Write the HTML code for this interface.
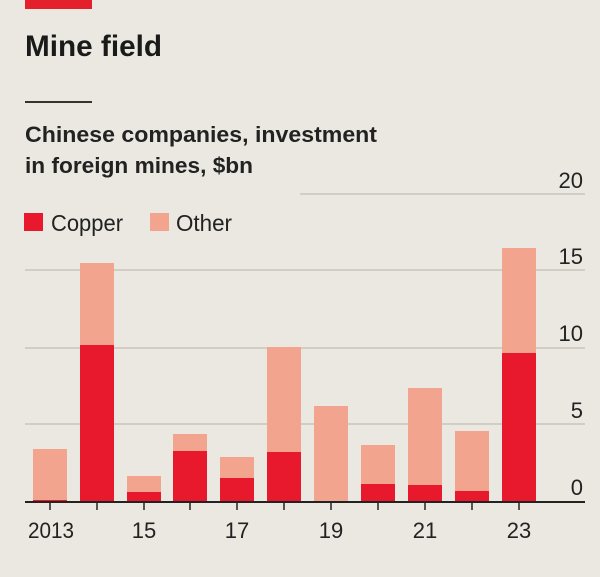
<!DOCTYPE html>
<html><head><meta charset="utf-8"><style>
html,body{margin:0;padding:0;background:#eae8e0;}
svg{display:block;font-family:"Liberation Sans",sans-serif;}
</style></head><body>
<svg width="600" height="577" viewBox="0 0 600 577" xmlns="http://www.w3.org/2000/svg">
<rect width="600" height="577" fill="#eae8e0"/>
<rect x="25" y="0" width="67" height="9" fill="#e3202c"/>
<text x="25" y="56" font-size="30" font-weight="bold" fill="#1a1a1a" textLength="137" lengthAdjust="spacingAndGlyphs">Mine field</text>
<rect x="25" y="101" width="67" height="2" fill="#333"/>
<text x="25" y="142" font-size="22" fill="#222" font-weight="bold" textLength="352" lengthAdjust="spacingAndGlyphs">Chinese companies, investment</text>
<text x="25" y="173" font-size="22" fill="#222" font-weight="bold" textLength="228" lengthAdjust="spacingAndGlyphs">in foreign mines, $bn</text>
<rect x="24" y="213" width="19" height="18" fill="#e8192c"/>
<text x="51" y="231" font-size="23" fill="#222" textLength="72" lengthAdjust="spacingAndGlyphs">Copper</text>
<rect x="150" y="213" width="19" height="18" fill="#f2a48f"/>
<text x="176" y="231" font-size="23" fill="#222" textLength="56" lengthAdjust="spacingAndGlyphs">Other</text>
<g stroke="#c9c6bd" stroke-width="1.5">
<line x1="300" y1="194" x2="585" y2="194"/>
<line x1="25" y1="270" x2="585" y2="270"/>
<line x1="25" y1="348" x2="585" y2="348"/>
<line x1="25" y1="424" x2="585" y2="424"/>
</g>
<g font-size="22" fill="#222" text-anchor="end">
<text x="583" y="188">20</text>
<text x="583" y="264">15</text>
<text x="583" y="341">10</text>
<text x="583" y="418">5</text>
<text x="583" y="495">0</text>
</g>
<g>
<rect x="33" y="449" width="34" height="53" fill="#f2a48f"/><rect x="33" y="500" width="34" height="2" fill="#e8192c"/>
<rect x="80" y="263" width="34" height="239" fill="#f2a48f"/><rect x="80" y="345" width="34" height="157" fill="#e8192c"/>
<rect x="127" y="476" width="34" height="26" fill="#f2a48f"/><rect x="127" y="492" width="34" height="10" fill="#e8192c"/>
<rect x="173" y="434" width="34" height="68" fill="#f2a48f"/><rect x="173" y="451" width="34" height="51" fill="#e8192c"/>
<rect x="220" y="457" width="34" height="45" fill="#f2a48f"/><rect x="220" y="478" width="34" height="24" fill="#e8192c"/>
<rect x="267" y="347" width="34" height="155" fill="#f2a48f"/><rect x="267" y="452" width="34" height="50" fill="#e8192c"/>
<rect x="314" y="406" width="34" height="96" fill="#f2a48f"/>
<rect x="361" y="445" width="34" height="57" fill="#f2a48f"/><rect x="361" y="484" width="34" height="18" fill="#e8192c"/>
<rect x="408" y="388" width="34" height="114" fill="#f2a48f"/><rect x="408" y="485" width="34" height="17" fill="#e8192c"/>
<rect x="455" y="431" width="34" height="71" fill="#f2a48f"/><rect x="455" y="491" width="34" height="11" fill="#e8192c"/>
<rect x="502" y="248" width="34" height="254" fill="#f2a48f"/><rect x="502" y="353" width="34" height="149" fill="#e8192c"/>
</g>
<rect x="25" y="501" width="560" height="2" fill="#222"/>
<g stroke="#222" stroke-width="1.5">
<line x1="50" y1="502" x2="50" y2="510"/><line x1="97" y1="502" x2="97" y2="510"/>
<line x1="144" y1="502" x2="144" y2="510"/><line x1="190" y1="502" x2="190" y2="510"/>
<line x1="237" y1="502" x2="237" y2="510"/><line x1="284" y1="502" x2="284" y2="510"/>
<line x1="331" y1="502" x2="331" y2="510"/><line x1="378" y1="502" x2="378" y2="510"/>
<line x1="425" y1="502" x2="425" y2="510"/><line x1="472" y1="502" x2="472" y2="510"/>
<line x1="519" y1="502" x2="519" y2="510"/>
</g>
<g font-size="22" fill="#222" text-anchor="middle">
<text x="51" y="538" textLength="46" lengthAdjust="spacingAndGlyphs">2013</text>
<text x="144" y="538">15</text>
<text x="237" y="538">17</text>
<text x="331" y="538">19</text>
<text x="425" y="538">21</text>
<text x="519" y="538">23</text>
</g>
</svg>
</body></html>
